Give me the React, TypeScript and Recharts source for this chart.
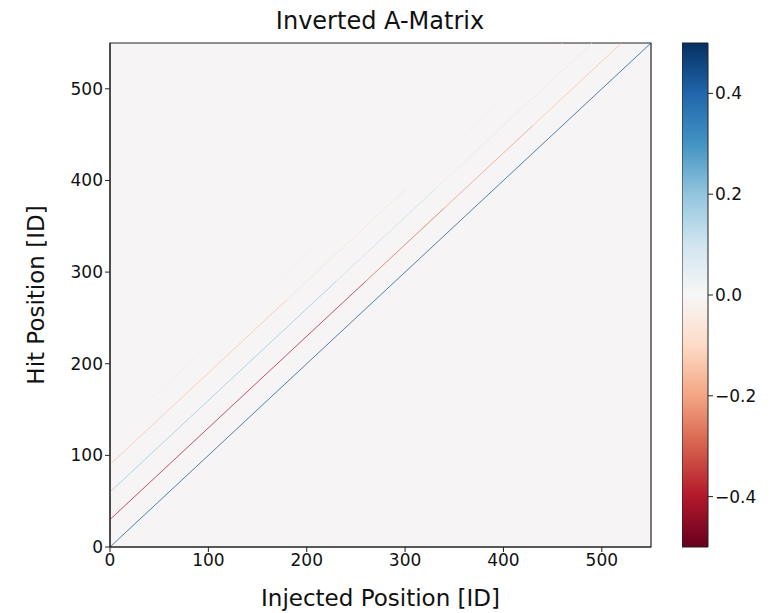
import React from 'react';
import {
  ComposedChart, Line, XAxis, YAxis, ReferenceArea, Label,
  BarChart, Bar,
} from 'recharts';

// matrix bands: each segment is a stretch of one off-diagonal with a roughly constant value
const segOffset = [0, 30, 30, 30, 30, 60, 60, 60, 90, 90, 90, 120];
const segStart = [0, 0, 260, 340, 430, 0, 230, 330, 0, 180, 300, 30];
const segEnd = [550, 260, 340, 430, 520, 230, 330, 490, 180, 300, 460, 240];
const segValue = [0.45, -0.42, -0.3, -0.22, -0.15, 0.2, 0.12, 0.06, -0.15, -0.08, -0.04, -0.04];

const axisTicks = [0, 100, 200, 300, 400, 500];
const cbTicks = [-0.4, -0.2, 0, 0.2, 0.4];
const cbData = [{ name: 'cb', range: [-0.5, 0.5] }];

// RdBu, from -0.5 (red) to 0.5 (blue)
const rdbu = ['#67001f', '#b2182b', '#d6604d', '#f4a582', '#fddbc7', '#f7f7f7', '#d1e5f0', '#92c5de', '#4393c3', '#2166ac', '#053061'];

const hex = (c: string) => [1, 3, 5].map((i) => parseInt(c.slice(i, i + 2), 16));
const colorFor = (v: number) => {
  const t = Math.max(0, Math.min(1, v + 0.5)) * (rdbu.length - 1);
  const i = Math.min(rdbu.length - 2, Math.floor(t));
  const f = t - i;
  const a = hex(rdbu[i]);
  const b = hex(rdbu[i + 1]);
  const m = a.map((x, k) => Math.round(x + (b[k] - x) * f));
  return `rgb(${m[0]},${m[1]},${m[2]})`;
};

const segments = segOffset.map((off, i) => ({
  key: `seg-${i}`,
  color: colorFor(segValue[i]),
  points: [
    { x: segStart[i], y: segStart[i] + off },
    { x: segEnd[i], y: segEnd[i] + off },
  ],
}));

const font = 'DejaVu Sans, sans-serif';
const tickStyle = { fill: '#111', fontSize: 17, fontFamily: font };
const fmtCb = (v: number) => (v < 0 ? `\u2212${Math.abs(v).toFixed(1)}` : v.toFixed(1));

export default function App() {
  return (
    <div style={{ position: 'absolute', left: 0, top: 0, width: 776, height: 613, background: '#fff', fontFamily: font }}>
      <div style={{ position: 'absolute', left: 0, top: 0 }}>
        <ComposedChart width={776} height={613} margin={{ top: 43, right: 125, bottom: 0, left: 0 }}>
          <XAxis
            dataKey="x" type="number" domain={[0, 550]} ticks={axisTicks} allowDataOverflow
            height={66} stroke="#222" tick={tickStyle} tickSize={5} tickLine={{ stroke: '#222' }}
          >
            <Label value="Injected Position [ID]" position="insideBottom" offset={7}
              style={{ fill: '#111', fontSize: 23, fontFamily: font }} />
          </XAxis>
          <YAxis
            type="number" domain={[0, 550]} ticks={axisTicks} allowDataOverflow
            width={110} stroke="#222" tick={tickStyle} tickSize={5} tickLine={{ stroke: '#222' }}
          >
            <Label value="Hit Position [ID]" angle={-90} position="insideLeft" offset={36}
              style={{ fill: '#111', fontSize: 23, fontFamily: font, textAnchor: 'middle' }} />
          </YAxis>
          <ReferenceArea x1={0} x2={550} y1={0} y2={550} fill="#f6f4f5" fillOpacity={1} stroke="#222" strokeWidth={1.2} />
          {segments.map((s) => (
            <Line
              key={s.key} data={s.points} dataKey="y" type="linear"
              stroke={s.color} strokeWidth={1} strokeOpacity={0.7} dot={false} activeDot={false}
              isAnimationActive={false}
            />
          ))}
        </ComposedChart>
      </div>
      <div style={{ position: 'absolute', left: 380 - 150, top: 7, width: 300, textAlign: 'center', fontSize: 24, color: '#111' }}>
        Inverted A-Matrix
      </div>
      <div style={{ position: 'absolute', left: 682, top: 0 }}>
        <BarChart width={94} height={613} data={cbData} barCategoryGap={0} margin={{ top: 43, right: 8, bottom: 66, left: 0 }}>
          <defs>
            <linearGradient id="rdbu" x1="0" y1="1" x2="0" y2="0">
              {rdbu.map((c, i) => (
                <stop key={c} offset={`${(i / (rdbu.length - 1)) * 100}%`} stopColor={c} />
              ))}
            </linearGradient>
          </defs>
          <XAxis dataKey="name" hide />
          <YAxis
            orientation="right" type="number" domain={[-0.5, 0.5]} ticks={cbTicks}
            width={60} axisLine={false} tick={tickStyle} tickSize={5}
            tickLine={{ stroke: '#222' }} tickFormatter={fmtCb}
          />
          <Bar dataKey="range" fill="url(#rdbu)" stroke="#222" strokeWidth={1} isAnimationActive={false} />
        </BarChart>
      </div>
    </div>
  );
}
